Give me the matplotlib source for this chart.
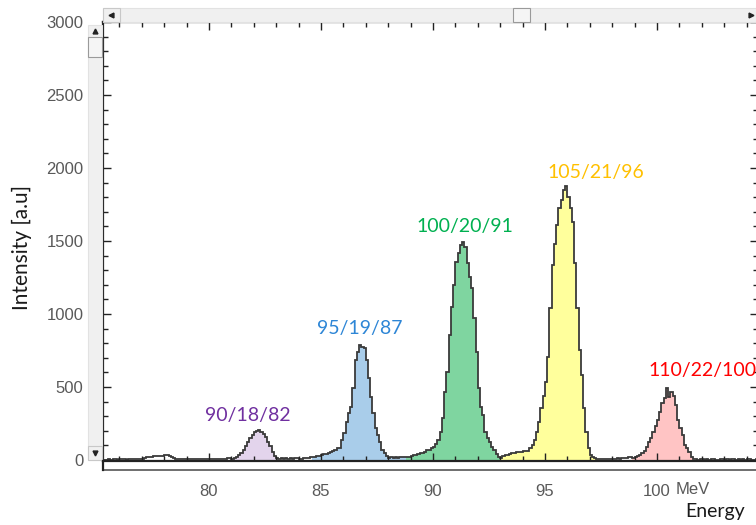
import numpy as np
import matplotlib.pyplot as plt
from matplotlib.patches import Rectangle
from matplotlib.ticker import MultipleLocator

# histogram, 0.1 MeV bins starting at 75.3 MeV
e_start = 75.3
bin_w = 0.1

noise_left = [3, 2, 4, 3, 5, 4, 3, 6, 4, 5, 3, 4, 6, 5, 4, 7, 8, 10,
              15, 18, 20, 22, 25, 27, 26, 24, 28, 32, 34, 30, 22, 14,
              10, 8, 6, 5, 7, 4, 6, 5, 8, 5, 4, 7, 6, 5, 9, 6, 5, 7, 6, 8, 7, 9, 10, 12, 14]
peak_82 = [8, 12, 22, 35, 50, 68, 95, 126, 150, 171, 190, 200, 205, 190, 175,
           155, 120, 95, 57, 30, 15]
gap_a = [10, 12, 8, 14, 10, 12, 9, 11, 15, 10, 8, 12, 14, 16, 18]
peak_87 = [20, 22, 25, 28, 32, 38, 42, 48, 55, 62, 70, 80, 85, 140, 185, 260,
           320, 360, 490, 685, 740, 790, 775, 765, 685, 560, 430, 320, 220, 170,
           125, 70, 50, 30, 15, 18, 12, 20, 15, 22, 18, 20]
peak_91 = [18, 22, 25, 34, 34, 38, 46, 46, 55, 68, 68, 80, 91, 110, 137, 194,
           285, 468, 605, 856, 1050, 1199, 1358, 1420, 1473, 1490,
           1461, 1347, 1250, 1176, 970, 742, 491, 360, 308, 194, 150, 126, 90,
           68, 40, 20]
peak_96 = [15, 25, 34, 36, 40, 46, 48, 52, 57, 58, 60, 62, 64, 80, 100, 137,
           194, 262, 354, 440, 537, 708, 1039, 1336, 1480, 1610, 1724, 1781,
           1849, 1879, 1800, 1724, 1632, 1347, 1039, 753, 582, 354, 194, 80,
           34, 20, 11, 8]
gap_b = [6, 4, 8, 5, 7, 10, 6, 8, 12, 9, 14, 12, 16, 18, 20]
peak_100 = [15, 20, 25, 34, 50, 64, 91, 120, 148, 194, 230, 274, 331, 388,
            422, 491, 434, 468, 440, 377, 274, 220, 171, 103, 80, 57, 18]
noise_right = [8, 5, 3, 6, 4, 2, 5, 3, 4, 6, 3, 2, 5, 4, 3, 6, 2, 4, 5, 3,
               4, 2, 6, 3, 5, 4, 3, 2, 4]

segments = [noise_left, peak_82, gap_a, peak_87, peak_91, peak_96, gap_b,
            peak_100, noise_right]
fill_colors = [None, '#E3D4EC', None, '#A9CDEA', '#7FD5A0', '#FFFF9C', None,
               '#FFC4C4', None]

labels = ['90/18/82', '95/19/87', '100/20/91', '105/21/96', '110/22/100']
label_x = [81.74, 86.74, 91.43, 97.25, 99.6]
label_y = [308, 904, 1596, 1966, 610]
label_colors = ['#7030A0', '#2E86D6', '#00B050', '#FFC000', '#FF0000']
label_ha = ['center', 'center', 'center', 'center', 'left']

counts = np.concatenate(segments)
edges = e_start + bin_w * np.arange(len(counts) + 1)

W, H = 756, 525
fig = plt.figure(figsize=(W / 100, H / 100), dpi=100)
ax = fig.add_axes([103 / W, (H - 461) / H, 655 / W, 439 / H])

i0 = 0
for seg, c in zip(segments, fill_colors):
    n = len(seg)
    if c is not None:
        ax.stairs(seg, edges[i0:i0 + n + 1], fill=True, color=c, lw=0)
    i0 += n
ax.stairs(counts, edges, color='#3a3a3a', lw=1.3, baseline=None)

for t, x, y, c, ha in zip(labels, label_x, label_y, label_colors, label_ha):
    ax.text(x, y, t, color=c, ha=ha, va='center', fontsize=14,
            family='Lato', clip_on=False)

ax.set_xlim(75.27, 104.51)
ax.set_ylim(-7, 3000)
ax.xaxis.set_major_locator(MultipleLocator(5))
ax.xaxis.set_minor_locator(MultipleLocator(1))
ax.yaxis.set_major_locator(MultipleLocator(500))
ax.yaxis.set_minor_locator(MultipleLocator(100))
ax.set_xticks([80, 85, 90, 95, 100])
ax.set_xticklabels(['80', '85', '90', '95', '100'])
ax.tick_params(which='both', direction='in', top=True, right=True,
               color='#222222', width=1.0)
ax.tick_params(which='major', length=6)
ax.tick_params(which='minor', length=3.5)
ax.tick_params(axis='x', pad=16.5, labelsize=12, labelcolor='#595959')
ax.tick_params(axis='y', pad=14, labelsize=12, labelcolor='#595959')
for lab in ax.get_xticklabels() + ax.get_yticklabels():
    lab.set_family('Liberation Sans')
for s in ax.spines.values():
    s.set_linewidth(1.6)
    s.set_color('#222222')

# window decorations, in pixel coordinates
ov = fig.add_axes([0, 0, 1, 1])
ov.set_xlim(0, W)
ov.set_ylim(H, 0)
ov.axis('off')
ov.patch.set_alpha(0)

ov.add_patch(Rectangle((103, 8), 653, 14, fc='#F0F0F0', ec='#E2E2E2', lw=0.8))
ov.add_patch(Rectangle((103, 8), 17, 14, fc='#F0F0F0', ec='#C8C8C8', lw=0.8))
ov.add_patch(Rectangle((513, 8), 17, 14, fc='#F5F5F5', ec='#9A9A9A', lw=0.8))
ov.plot(111, 15, marker='<', ms=3.5, color='#222222')
ov.plot(751, 15, marker='>', ms=3.5, color='#222222')

ov.add_patch(Rectangle((88, 25), 14, 435, fc='#F0F0F0', ec='#E2E2E2', lw=0.8))
ov.add_patch(Rectangle((88, 37), 14, 20, fc='#F5F5F5', ec='#9A9A9A', lw=0.8))
ov.add_patch(Rectangle((88, 446), 14, 14, fc='#F0F0F0', ec='#C8C8C8', lw=0.8))
ov.plot(95, 31, marker='^', ms=3.5, color='#222222')
ov.plot(95, 453, marker='v', ms=3.5, color='#222222')

ov.plot([103, 756], [470, 470], color='#555555', lw=1.2)
ov.plot([103, 103], [461, 470], color='#222222', lw=1.6)

ov.text(676, 490, 'MeV', ha='left', va='center', fontsize=12,
        color='#595959', family='Liberation Sans')
ov.text(745, 511, 'Energy', ha='right', va='center', fontsize=14,
        color='#1a1a1a', family='Lato')
ov.text(22, 248, 'Intensity [a.u]', ha='center', va='center', fontsize=15,
        rotation=90, color='#1a1a1a', family='Lato')

fig.savefig('out.png', dpi=100)
